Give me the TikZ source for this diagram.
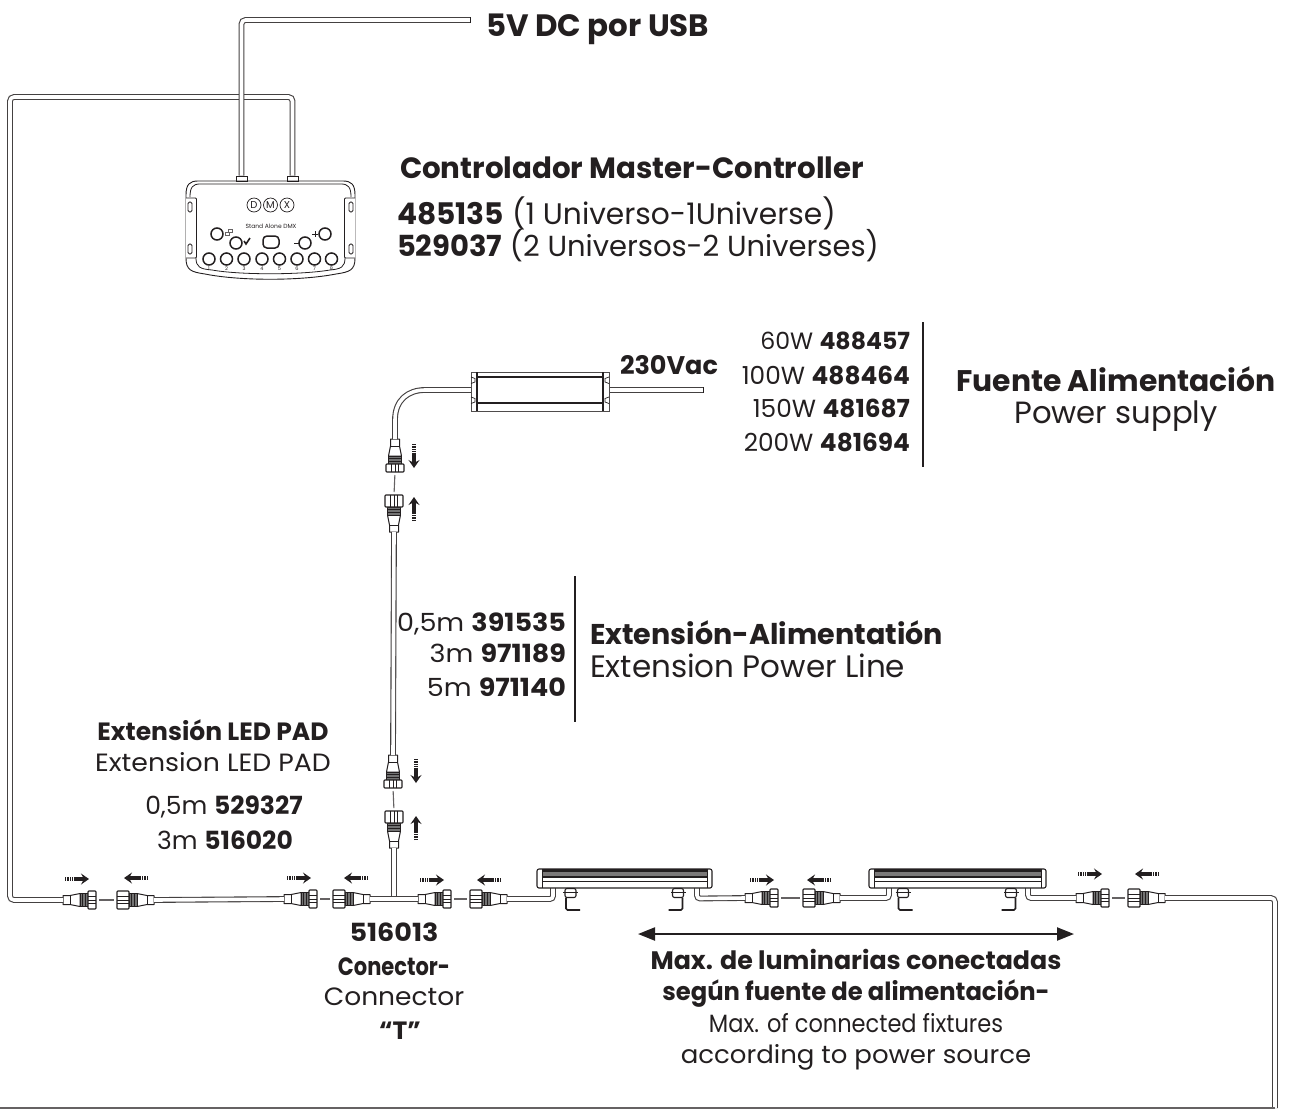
\documentclass[tikz,border=0pt]{standalone}
\usepackage{fontspec}
\setmainfont{Poppins}
\usetikzlibrary{arrows.meta}
\definecolor{ink}{HTML}{231F20}
\newcommand\connbody[1]{%
  \fill[white] (0,-9) rectangle (#1+25,9);
  \draw[ink,line width=1pt,line join=round,fill=white] (#1+8,-6.5) -- (#1+18,-4.5) -- (#1+25,-4.5) -- (#1+25,4.5) -- (#1+18,4.5) -- (#1+8,6.5) -- cycle;
  \draw[ink,line width=.9pt] (#1+18,-4.5) -- (#1+18,4.5);
  \draw[ink,line width=1pt,fill=black!55] (#1,-6.5) rectangle (#1+8,6.5);
  \draw[ink,line width=.6pt] (#1+2.5,-6.5) -- (#1+2.5,6.5) (#1+5.5,-6.5) -- (#1+5.5,6.5);
  \draw[ink,line width=1.1pt,fill=white,rounded corners=.8pt] (0,-9) rectangle (#1,9);
  \draw[ink,line width=.7pt] (0,-3.5) -- (#1,-3.5) (0,3.5) -- (#1,3.5) (0,0) -- (#1,0);
  \coordinate (-nut) at (0,0);
  \coordinate (-tail) at (#1+25,0);
}
\newcommand\fixture[2]{%
  \draw[ink,line width=1.1pt,fill=white,rounded corners=2pt] (#1,869) rectangle (#2,888);
  \fill[ink!60] (#1+5,871) rectangle (#2-5,876);
  \fill[ink] (#1+5,869) rectangle (#2-5,871.5);
  \fill[ink] (#1+5,875.5) rectangle (#2-5,877.5);
  \draw[ink,line width=1pt] (#1+5,881.5) -- (#2-5,881.5);
  \draw[ink,line width=.9pt] (#1+5,869) -- (#1+5,888) (#2-5,869) -- (#2-5,888);
}
\tikzset{
  x=1pt,y=-1pt,
  connm/.pic={\connbody{8}},
  connf/.pic={\connbody{12}},
  dirarrow/.pic={
    \draw[ink,line width=3.2pt,dash pattern=on 1pt off .7pt] (0,0) -- (9,0);
    \draw[ink,line width=3.2pt,-{Stealth[length=8pt,width=11pt,inset=3pt]}] (9,0) -- (24,0);
  },
  bracket/.pic={
    \draw[ink,line width=1.1pt,fill=white,rounded corners=2pt] (-5.5,0.5) rectangle (5.5,9.5);
    \draw[ink,line width=1.1pt] (-7.5,4.5) -- (7.5,4.5);
    \draw[ink,line width=1.6pt,rounded corners=1.5pt] (-4.5,9.5) -- (-4.5,22) -- (9.5,22);
  },
  cable/.style={draw=ink!85,double=white,double distance=3.6pt,line width=1.1pt,rounded corners=4pt},
  link/.style={draw=ink!70,line width=1.1pt},
  txt/.style={inner sep=0pt,outer sep=0pt,text=ink,font=\fontsize{#1}{#1}\selectfont},
  lbl/.style={txt=#1,anchor=base},
  lbr/.style={txt=#1,anchor=base east},
  lbw/.style={txt=#1,anchor=base west},
  rule/.style={ink,line width=2pt},
  ctl/.style={draw=ink,line width=.8pt},
  btn/.style={circle,draw=ink,line width=1.5pt,minimum size=12pt,inner sep=0pt},
  dmxc/.style={circle,draw=ink,line width=.7pt,minimum size=14pt,inner sep=0pt,text=ink,font=\fontsize{10}{10}\selectfont},
  num/.style={inner sep=0pt,text=ink,font=\fontsize{5}{5}\selectfont},
}
\begin{document}
\begin{tikzpicture}
\useasboundingbox (0,0) rectangle (1295,1109);
% controller
\node[ctl,fill=white,minimum width=11pt,minimum height=5pt,inner sep=0pt] (port1) at (241.5,178.5) {};
\node[ctl,fill=white,minimum width=11pt,minimum height=5pt,inner sep=0pt] (port2) at (292.5,178.5) {};
\draw[ctl,line width=.9pt] (186,195) .. controls (186,184) and (190,181) .. (198,181) -- (343,181) .. controls (351,181) and (355,184) .. (355,195) -- (355,258) .. controls (355,270) and (350,272) .. (336,274) .. controls (300,281) and (240,281) .. (205,274) .. controls (191,272) and (186,270) .. (186,258) -- cycle;
\draw[ctl] (190,197) .. controls (190,187) and (193,184) .. (200,184) -- (341,184) .. controls (348,184) and (351,187) .. (351,197) (196,258) .. controls (196,267) and (200,269) .. (212,270) .. controls (240,275) and (300,275) .. (330,270) .. controls (341,269) and (345,267) .. (345,258);
\draw[ctl,fill=white,rounded corners=1pt] (186,198) -- (196.5,198) -- (196.5,258) -- (186,258);
\draw[ctl,fill=white,rounded corners=1pt] (355,198) -- (344.5,198) -- (344.5,258) -- (355,258);
\draw[ctl,rounded corners=1.5pt] (188,202) rectangle (192,212) (188,244) rectangle (192,254) (349,202) rectangle (353,212) (349,244) rectangle (353,254);
\node[dmxc] (dmxD) at (254,205) {D};
\node[dmxc] (dmxM) at (270.5,205) {M};
\node[dmxc] (dmxX) at (287,205) {X};
\node[inner sep=0pt,text=ink,font=\fontsize{6}{6}\selectfont] (sa) at (271,226.5) {Stand Alone DMX};
\node[btn] (b1) at (217,234) {};
\node[btn] (b2) at (236,243) {};
\node[btn] (b3) at (305,243) {};
\node[btn] (b4) at (325,234) {};
\node[draw=ink,line width=1.5pt,rounded corners=4pt,minimum width=16pt,minimum height=12pt,inner sep=0pt] (oval) at (271,242) {};
\draw[ink!70,line width=.5pt] (225,232) rectangle (229,235) (228,229) rectangle (232,232);
\draw[ink,line width=1.6pt] (244,241) -- (246,244) -- (250,238);
\draw[ink,line width=1pt] (294,243) -- (299,243) (312,234) -- (318,234) (315,231) -- (315,237);
\foreach \xx/\nn/\lab in {209/1/1,226.5/2/2,244/3/3,262/4/4,279.5/5/5,297/6/6,314.5/7/7,331.5/8/8}{
  \node[btn] (k\nn) at (\xx,259) {};
  \node[num] (n\nn) at (\xx,269) {\lab};
}
% cables
\coordinate (usbEnd) at (470,20);
\coordinate (cUp) at (292.5,97);
\coordinate (cLeft) at (10,97);
\coordinate (cDown) at (10,900);
\coordinate (usbUp) at (241.5,20);
\coordinate (psuCable) at (472,390);
\coordinate (mainIn) at (703,390);
\coordinate (rCorner) at (1275,898);
\coordinate (rBottom) at (1275,1108);
\coordinate (bLeft) at (0,1108);
\pic[rotate=180] (c1) at (96,900) {connm};
\pic (c2) at (117,900) {connf};
\pic[rotate=180] (c3) at (317,899) {connm};
\pic (c4) at (333,899) {connf};
\pic[rotate=180] (c5) at (451,899) {connm};
\pic (c6) at (470,899) {connf};
\pic[rotate=180] (c7) at (778,898) {connm};
\pic (c8) at (803,898) {connf};
\pic[rotate=180] (c9) at (1109,898) {connm};
\pic (c10) at (1128,898) {connf};
\pic[rotate=90] (c11) at (395,472) {connm};
\pic[rotate=-90] (c12) at (394,495) {connf};
\pic[rotate=90] (c13) at (393,788) {connm};
\pic[rotate=-90] (c14) at (394,811) {connf};
\draw[cable] (port2.north) -- (cUp) -- (cLeft) -- (cDown) -- (c1-tail);
\draw[cable] (port1.north) -- (usbUp) -- (usbEnd);
\draw[ink,line width=.9pt] (usbEnd) ++(0,-2.9) -- ++(0,5.8);
\draw[cable] (c2-tail) -- (c3-tail);
\draw[cable] (c4-tail) -- (c5-tail);
\draw[cable] (c12-tail) -- (c13-tail);
\draw[cable] (c14-tail) -- (394,896);
\draw[cable] (c10-tail) -- (rCorner) -- (rBottom);
\draw[ink!70,line width=1.2pt] (bLeft) -- (rBottom);
\draw[cable,rounded corners=0pt] (c11-tail) -- (395,420) .. controls (395,400) and (408,390) .. (425,390) -- (psuCable);
\draw[cable,rounded corners=3pt] (c6-tail) -- (553,899) -- (553,886);
\draw[cable,rounded corners=3pt] (697,886) -- (697,898.5) -- (c7-tail);
\draw[cable,rounded corners=3pt] (c8-tail) -- (889,898) -- (889,886);
\draw[cable,rounded corners=3pt] (1028,886) -- (1028,898) -- (c9-tail);
\draw[cable] (609,390) -- (mainIn);
\draw[ink,line width=.9pt] (mainIn) ++(0,-2.9) -- ++(0,5.8);
% gaps
\foreach \aa/\bb in {c1/c2,c3/c4,c5/c6,c7/c8,c9/c10,c11/c12,c13/c14}{
  \draw[link,shorten >=3pt,shorten <=3pt] (\aa-nut) -- (\bb-nut);
}
% power supply
\draw[ink!80,line width=1pt,fill=white] (471,372) rectangle (609,411);
\draw[ink,line width=1.1pt] (477,372) -- (477,411) (603,372) -- (603,411) (477,377) -- (603,377) (477,403) -- (603,403);
\draw[ink,line width=.7pt] (471,377) -- (475,378.5) -- (475,382) -- (471,383.5) (471,397) -- (475,398.5) -- (475,402) -- (471,403.5) (609,377) -- (605,378.5) -- (605,382) -- (609,383.5) (609,397) -- (605,398.5) -- (605,402) -- (609,403.5);
% fixtures
\fixture{537}{712}
\fixture{869}{1046}
\pic (m1) at (570.5,888) {bracket};
\pic[xscale=-1] (m2) at (678,888) {bracket};
\pic (m3) at (903,888) {bracket};
\pic[xscale=-1] (m4) at (1011,888) {bracket};
% arrows
\pic (a1) at (65,879) {dirarrow};
\pic[rotate=180] (a2) at (148,878) {dirarrow};
\pic (a3) at (287,878) {dirarrow};
\pic[rotate=180] (a4) at (368,878) {dirarrow};
\pic (a5) at (420,880) {dirarrow};
\pic[rotate=180] (a6) at (501,880) {dirarrow};
\pic (a7) at (750,880) {dirarrow};
\pic[rotate=180] (a8) at (831,880) {dirarrow};
\pic (a9) at (1078,874) {dirarrow};
\pic[rotate=180] (a10) at (1159,874) {dirarrow};
\pic[rotate=-90] (a11) at (414,444) {dirarrow};
\pic[rotate=90] (a12) at (414,521) {dirarrow};
\pic[rotate=-90] (a13) at (416,759) {dirarrow};
\pic[rotate=90] (a14) at (416,840) {dirarrow};
% span arrow
\coordinate (spanL) at (638,934);
\coordinate (spanR) at (1074,934);
\draw[ink,line width=2.2pt,{Stealth[length=17pt,width=13pt,inset=0pt]}-{Stealth[length=17pt,width=13pt,inset=0pt]}] (spanL) -- (spanR);
% rules
\draw[rule] (923,322) -- (923,467);
\draw[rule] (575,576) -- (575,722);
% texts
\node[lbw=30.9] (t1) at (486,36) {\bfseries 5V DC por USB};
\node[lbw=29.3] (t2) at (400,178) {\bfseries Controlador Master-Controller};
\node[lbw=29.7] (t3) at (397,224) {\textbf{485135} (1 Universo-1Universe)};
\node[lbw=29] (t4) at (397,256) {\textbf{529037} (2 Universos-2 Universes)};
\node[lbw=25.5] (t5) at (620,374) {\bfseries 230Vac};
\node[lbr=23.6] (t6) at (910,349) {60W \textbf{488457}};
\node[lbr=24.8] (t7) at (910,384) {100W \textbf{488464}};
\node[lbr=24.8] (t8) at (910,417) {150W \textbf{481687}};
\node[lbr=24.8] (t9) at (910,451) {200W \textbf{481694}};
\node[lbl=29.8] (t10) at (1116,391) {\bfseries Fuente Alimentación};
\node[lbl=30.7] (t11) at (1116,423) {Power supply};
\node[lbr=25] (t12) at (566,631) {\scalebox{1.08}[1]{0,5m \textbf{391535}}};
\node[lbr=25] (t13) at (566,662) {\scalebox{1.08}[1]{3m \textbf{971189}}};
\node[lbr=25] (t14) at (566,696) {\scalebox{1.08}[1]{5m \textbf{971140}}};
\node[lbw=28.6] (t15) at (590,644) {\bfseries Extensión-Alimentatión};
\node[lbw=31] (t16) at (590,677) {Extension Power Line};
\node[lbl=25] (t17) at (213,740) {\bfseries Extensión LED PAD};
\node[lbl=25] (t18) at (213,771) {\scalebox{1.07}[1]{Extension LED PAD}};
\node[lbl=25] (t19) at (224,814) {0,5m \textbf{529327}};
\node[lbl=25] (t20) at (225,849) {3m \textbf{516020}};
\node[lbl=25] (t21) at (394,941) {\scalebox{1.08}[1]{\bfseries 516013}};
\node[lbl=25] (t22) at (394,975) {\scalebox{.84}[1]{\bfseries Conector-}};
\node[lbl=25] (t23) at (394,1005) {\scalebox{1.06}[1]{Connector}};
\node[lbl=25] (t24) at (400,1039) {\bfseries “T”};
\node[lbl=25.3] (t25) at (856,969) {\bfseries Max. de luminarias conectadas};
\node[lbl=25] (t26) at (856,1000) {\scalebox{.97}[1]{\bfseries según fuente de alimentación-}};
\node[lbl=25] (t27) at (856,1032) {\scalebox{.9}[1]{Max. of connected fixtures}};
\node[lbl=25] (t28) at (856,1063) {\scalebox{1.04}[1]{according to power source}};
\end{tikzpicture}
\end{document}
